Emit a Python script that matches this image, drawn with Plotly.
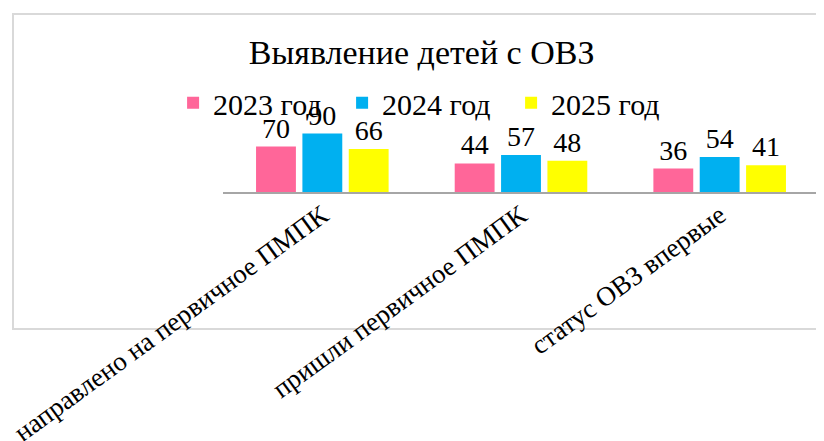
import plotly.graph_objects as go

categories = ["направлено на первичное ПМПК", "пришли первичное ПМПК", "статус ОВЗ впервые"]
series_names = ["2023 год", "2024 год", "2025 год"]
values_2023 = [70, 44, 36]
values_2024 = [90, 57, 54]
values_2025 = [66, 48, 41]
colors = ["#FF6699", "#00B0F0", "#FFFF00"]

FONT = "Liberation Serif, Times New Roman, serif"

fig = go.Figure()
for name, vals, col in zip(series_names, [values_2023, values_2024, values_2025], colors):
    fig.add_trace(go.Bar(
        x=categories, y=vals, name=name, marker=dict(color=col, line=dict(width=0)),
        text=[str(v) for v in vals], textposition="outside", cliponaxis=False,
        textfont=dict(family=FONT, size=28, color="#000000"),
    ))

# the page body has an 8px margin, so the figure is placed at (8, 8) in the window
W, H = 824, 441
ml, mr, mt, mb = 215, 13, 119, 257
pw = W - ml - mr
ph = H - mt - mb

def px_to_paper_x(px):
    return (px - ml) / pw

def px_to_paper_y(py):
    return (H - mb - py) / ph

fig.update_layout(
    width=W, height=H, autosize=False,
    margin=dict(l=ml, r=mr, t=mt, b=mb, pad=0, autoexpand=False),
    paper_bgcolor="white", plot_bgcolor="white",
    barmode="group", bargap=0.3, bargroupgap=0.14,
    font=dict(family=FONT, color="#000000"),
    title=dict(text="Выявление детей с ОВЗ", xref="container", yref="container",
               x=0.502, y=0.9, xanchor="center", yanchor="middle",
               font=dict(family=FONT, size=34, color="#000000")),
    legend=dict(orientation="h", xref="container", yref="container",
                x=0.508, y=0.785, xanchor="center", yanchor="middle",
                font=dict(family=FONT, size=30, color="#000000"),
                bgcolor="rgba(0,0,0,0)", traceorder="normal",
                itemsizing="constant", itemwidth=30,
                entrywidth=124, entrywidthmode="pixels"),
    showlegend=True,
    xaxis=dict(showline=True, linecolor="#A6A6A6", linewidth=2, ticks="",
               tickangle=-36, tickfont=dict(family=FONT, size=27, color="#000000"),
               ticklabelstandoff=-5,
               showgrid=False, zeroline=False, automargin=False),
    yaxis=dict(range=[0, 100], visible=False, showgrid=False, zeroline=False,
               automargin=False),
    shapes=[dict(type="rect", xref="paper", yref="paper",
                 x0=px_to_paper_x(5), x1=px_to_paper_x(840),
                 y0=px_to_paper_y(321), y1=px_to_paper_y(6),
                 line=dict(color="#D9D9D9", width=2), fillcolor="rgba(0,0,0,0)", layer="below")],
)

fig.write_html("out.html")
